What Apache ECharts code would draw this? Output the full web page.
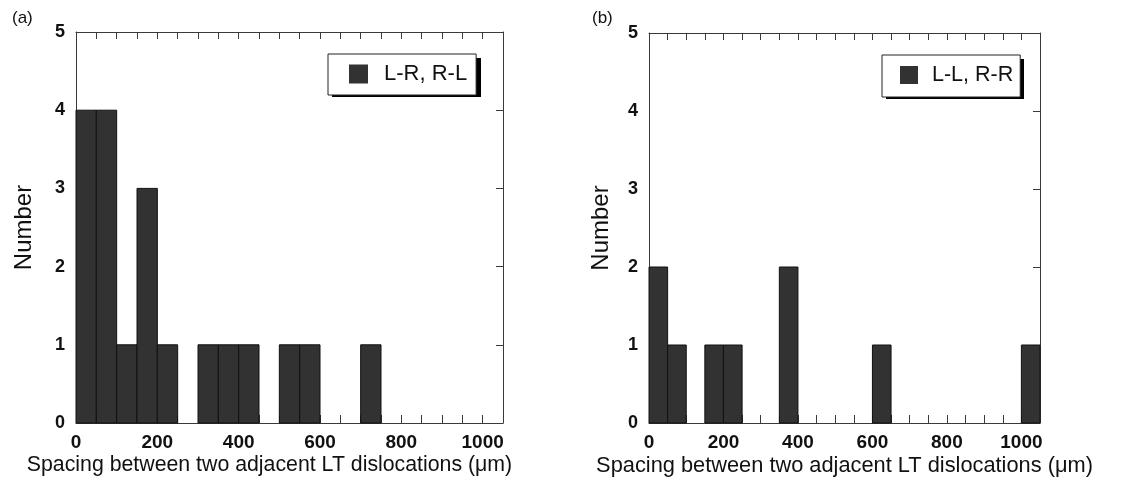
<!DOCTYPE html>
<html>
<head>
<meta charset="utf-8">
<script src="https://cdn.jsdelivr.net/npm/echarts@6/dist/echarts.min.js"></script>
<style>
html,body{margin:0;padding:0;background:#fff;}
#c{width:1131px;height:479px;}
</style>
</head>
<body>
<div id="c"></div>
<script>
// Bin left edges (µm), bin width 50
var binLefts = [0,50,100,150,200,250,300,350,400,450,500,550,600,650,700,750,800,850,900,950,1000];
var binWidth = 50;
// Counts per bin
var countsA = [4,4,1,3,1,0,1,1,1,0,1,1,0,0,1,0,0,0,0,0,0]; // L-R, R-L
var countsB = [2,1,0,1,1,0,0,2,0,0,0,0,1,0,0,0,0,0,0,0,1]; // L-L, R-R
var seriesNames = ['L-R, R-L', 'L-L, R-R'];
var panelLabels = ['(a)', '(b)'];
var xTitle = 'Spacing between two adjacent LT dislocations (\u03bcm)';
var yTitle = 'Number';

var FONT = '"Liberation Sans", Arial, sans-serif';
var FRAME = '#3a3a3a';

function toData(counts){
  var d = [];
  for (var i = 0; i < binLefts.length; i++) {
    if (counts[i] > 0) d.push([binLefts[i], binLefts[i] + binWidth, counts[i]]);
  }
  return d;
}

function renderItem(params, api){
  var p0 = api.coord([api.value(0), 0]);
  var p1 = api.coord([api.value(1), api.value(2)]);
  return {
    type: 'rect',
    shape: {x: p0[0], y: p1[1], width: p1[0] - p0[0], height: p0[1] - p1[1]},
    style: {fill: '#323232', stroke: '#111', lineWidth: 1}
  };
}

function xAxes(gi, fs, pad){
  return [{
    gridIndex: gi, type: 'value', position: 'bottom', min: 0, max: 1050, interval: 50,
    axisLine: {show: true, onZero: false, lineStyle: {color: FRAME, width: 1}},
    axisTick: {show: true, inside: true, length: 8, lineStyle: {color: FRAME}},
    axisLabel: {margin: 10, fontFamily: FONT, fontSize: 19, fontWeight: 'bold', color: '#111',
      formatter: function(v){ return (v % 200 === 0 && v <= 1000) ? String(v) : ''; }},
    splitLine: {show: false},
    name: xTitle, nameLocation: 'middle', nameGap: 32, nameMoveOverlap: false,
    nameTextStyle: {fontFamily: FONT, fontSize: fs, color: '#111', padding: pad}
  },{
    gridIndex: gi, type: 'value', position: 'top', min: 0, max: 1050, interval: 50,
    axisLine: {show: true, onZero: false, lineStyle: {color: FRAME, width: 1}},
    axisTick: {show: true, inside: true, length: 7, lineStyle: {color: FRAME}},
    axisLabel: {show: false}, splitLine: {show: false}
  }];
}

function yAxes(gi, gap){
  return [{
    gridIndex: gi, type: 'value', position: 'left', min: 0, max: 5, interval: 1,
    axisLine: {show: true, onZero: false, lineStyle: {color: FRAME, width: 1}},
    axisTick: {show: false},
    axisLabel: {margin: 11, fontFamily: FONT, fontSize: 18, fontWeight: 'bold', color: '#111'},
    splitLine: {show: false},
    name: yTitle, nameLocation: 'middle', nameGap: gap, nameRotate: 90, nameMoveOverlap: false,
    nameTextStyle: {fontFamily: FONT, fontSize: 24, color: '#111'}
  },{
    gridIndex: gi, type: 'value', position: 'right', min: 0, max: 5, interval: 1,
    axisLine: {show: true, onZero: false, lineStyle: {color: FRAME, width: 1}},
    axisTick: {show: true, inside: true, length: 7, lineStyle: {color: FRAME}},
    axisLabel: {show: false}, splitLine: {show: false}
  }];
}

function legend(name, left, top, fs, icon, pad, tpad){
  return {
    data: [name], left: left, top: top, orient: 'vertical', z: 10,
    icon: 'rect', itemWidth: icon, itemHeight: icon,
    padding: pad,
    backgroundColor: '#fff', borderColor: '#222', borderWidth: 1,
    itemStyle: {borderWidth: 0},
    textStyle: {fontFamily: FONT, fontSize: fs, lineHeight: 20, color: '#111', padding: [0, 0, 0, tpad]},
    selectedMode: false
  };
}

var chart = echarts.init(document.getElementById('c'), null, {renderer: 'canvas'});
chart.setOption({
  animation: false,
  backgroundColor: '#fff',
  title: [
    {text: panelLabels[0], left: 12, top: 10, textStyle: {fontFamily: FONT, fontSize: 17, fontWeight: 'normal', color: '#111'}, padding: 0},
    {text: panelLabels[1], left: 592, top: 10, textStyle: {fontFamily: FONT, fontSize: 17, fontWeight: 'normal', color: '#111'}, padding: 0}
  ],
  grid: [
    {left: 76, top: 32, width: 427, height: 391, containLabel: false, outerBoundsMode: 'none'},
    {left: 649, top: 33, width: 391, height: 390, containLabel: false, outerBoundsMode: 'none'}
  ],
  xAxis: xAxes(0, 21.3, [0, 40, 0, 0]).concat(xAxes(1, 21.8, [0, 0, 0, 0])),
  yAxis: yAxes(0, 40).concat(yAxes(1, 36)),
  legend: [
    legend(seriesNames[0], 328, 54, 22, 19, [9, 9, 10, 21], 11),
    legend(seriesNames[1], 882, 55, 21.5, 18, [9, 7, 11, 18], 9)
  ],
  graphic: [
    {type: 'rect', left: 332, top: 58, z: 5, shape: {width: 149, height: 39}, style: {fill: '#000'}},
    {type: 'rect', left: 886, top: 59, z: 5, shape: {width: 138, height: 40}, style: {fill: '#000'}}
  ],
  series: [
    {type: 'custom', name: seriesNames[0], xAxisIndex: 0, yAxisIndex: 0, renderItem: renderItem,
     itemStyle: {color: '#323232'}, encode: {x: [0, 1], y: 2}, data: toData(countsA), clip: false},
    {type: 'custom', name: seriesNames[1], xAxisIndex: 2, yAxisIndex: 2, renderItem: renderItem,
     itemStyle: {color: '#323232'}, encode: {x: [0, 1], y: 2}, data: toData(countsB), clip: false}
  ]
});
</script>
</body>
</html>
